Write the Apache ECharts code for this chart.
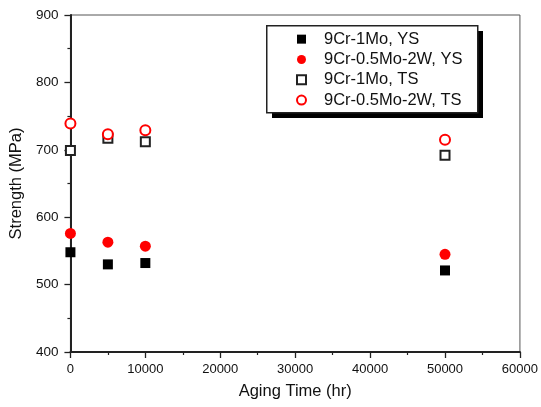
<!DOCTYPE html>
<html><head><meta charset="utf-8">
<script src="https://cdn.jsdelivr.net/npm/echarts@6/dist/echarts.min.js"></script>
<style>html,body{margin:0;padding:0;background:#fff}#c{width:541px;height:407px}</style>
</head><body><div id="c"></div>
<script>
const agingTimes = [0, 5000, 10000, 50000];
const ys_9Cr1Mo = [548, 530, 532, 521];
const ys_9Cr05Mo2W = [576, 563, 557, 545];
const ts_9Cr1Mo = [699, 717, 712, 692];
const ts_9Cr05Mo2W = [739, 723, 729, 715];
const seriesNames = ['9Cr-1Mo, YS', '9Cr-0.5Mo-2W, YS', '9Cr-1Mo, TS', '9Cr-0.5Mo-2W, TS'];

const pair = v => agingTimes.map((t, i) => [t, v[i]]);
const font = 'Liberation Sans, Arial, sans-serif';
const axisCommon = {
  axisLine: {show: true, lineStyle: {color: '#222', width: 2}},
  axisTick: {show: true, length: 6, lineStyle: {color: '#222', width: 1.3}},
  minorTick: {show: true, splitNumber: 2, length: 3, lineStyle: {color: '#222', width: 1.2}},
  splitLine: {show: false},
  nameLocation: 'middle',
  nameTextStyle: {fontFamily: font, fontSize: 16.5, color: '#111'}
};
const chart = echarts.init(document.getElementById('c'));
chart.setOption({
  animation: false,
  grid: {left: 69, right: 19, top: 15, bottom: 55, show: true, borderColor: '#555', borderWidth: 1},
  graphic: [
    {type: 'rect', left: 272, top: 31, shape: {width: 211, height: 87}, style: {fill: '#000'}, z: 5},
    {type: 'rect', left: 266, top: 25, shape: {width: 211, height: 87}, style: {fill: '#fff', stroke: '#222', lineWidth: 1.5}, z: 6}
  ],
  legend: {
    orient: 'vertical', left: 266, top: 25, z: 10,
    padding: [4, 15, 2, 30],
    itemWidth: 9, itemHeight: 9, itemGap: 0,
    textStyle: {fontFamily: font, fontSize: 16.5, color: '#111', lineHeight: 20.3, padding: [0, 0, 0, 13]},
    data: [
      {name: seriesNames[0], icon: 'rect'},
      {name: seriesNames[1], icon: 'circle'},
      {name: seriesNames[2], icon: 'emptyRect'},
      {name: seriesNames[3], icon: 'emptyCircle'}
    ]
  },
  xAxis: Object.assign({}, axisCommon, {
    type: 'value', min: 0, max: 60000, interval: 10000,
    name: 'Aging Time (hr)', nameGap: 31,
    axisLabel: {fontFamily: font, fontSize: 13, color: '#111', margin: 11, formatter: v => String(v)}
  }),
  yAxis: Object.assign({}, axisCommon, {
    type: 'value', min: 400, max: 900, interval: 100,
    name: 'Strength (MPa)', nameGap: 40,
    axisLabel: {fontFamily: font, fontSize: 13.5, color: '#111', margin: 12}
  }),
  series: [
    {name: seriesNames[0], type: 'scatter', symbol: 'rect', symbolSize: 10, clip: false,
     itemStyle: {color: '#000', opacity: 1}, data: pair(ys_9Cr1Mo)},
    {name: seriesNames[1], type: 'scatter', symbol: 'circle', symbolSize: 11, clip: false,
     itemStyle: {color: '#ff0000', opacity: 1}, data: pair(ys_9Cr05Mo2W)},
    {name: seriesNames[2], type: 'scatter', symbol: 'emptyRect', symbolSize: 9, clip: false,
     itemStyle: {color: '#222', borderWidth: 1.2, opacity: 1}, data: pair(ts_9Cr1Mo)},
    {name: seriesNames[3], type: 'scatter', symbol: 'emptyCircle', symbolSize: 10, clip: false,
     itemStyle: {color: '#ff0000', borderWidth: 1.2, opacity: 1}, data: pair(ts_9Cr05Mo2W)}
  ]
});
</script></body></html>
